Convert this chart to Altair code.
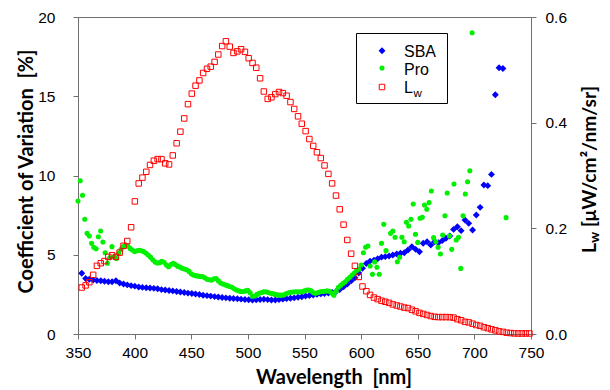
import altair as alt
import pandas as pd

# ---------------- data ----------------
# common ~3.35 nm sampling grid (SBA and Lw)
grid_wl = [
    353.3, 356.7, 360.0, 363.4, 366.7, 370.1, 373.4, 376.8, 380.1, 383.5,
    386.8, 390.2, 393.5, 396.9, 400.2, 403.6, 406.9, 410.3, 413.6, 417.0,
    420.3, 423.7, 427.0, 430.4, 433.7, 437.1, 440.4, 443.8, 447.1, 450.5,
    453.8, 457.2, 460.5, 463.9, 467.2, 470.6, 473.9, 477.3, 480.6, 484.0,
    487.3, 490.7, 494.0, 497.4, 500.7, 504.1, 507.4, 510.8, 514.1, 517.5,
    520.8, 524.2, 527.5, 530.9, 534.2, 537.6, 540.9, 544.3, 547.6, 551.0,
    554.3, 557.7, 561.0, 564.4, 567.7, 571.1, 574.4, 577.8, 581.1, 584.5,
    587.8, 591.2, 594.5, 597.9, 601.2, 604.6, 607.9, 611.3, 614.6, 618.0,
    621.3, 624.7, 628.0, 631.4, 634.7, 638.1, 641.4, 644.8, 648.1, 651.5,
    654.8, 658.2, 661.5, 664.9, 668.2, 671.6, 674.9, 678.3, 681.6, 685.0,
    688.3, 691.7, 695.0, 698.4, 701.7, 705.1, 708.4, 711.8, 715.1, 718.5,
    721.8, 725.2, 728.5, 731.9, 735.2, 738.6, 741.9, 745.3, 748.6,
]

# water-leaving radiance Lw [uW/cm2/nm/sr] (right axis)
lw_values = [
    0.088, 0.092, 0.098, 0.112, 0.129, 0.134, 0.138, 0.146, 0.149, 0.146,
    0.154, 0.167, 0.176, 0.202, 0.251, 0.285, 0.296, 0.307, 0.320, 0.328,
    0.331, 0.331, 0.323, 0.321, 0.338, 0.361, 0.383, 0.408, 0.435, 0.455,
    0.470, 0.480, 0.494, 0.502, 0.506, 0.515, 0.529, 0.545, 0.554, 0.544,
    0.532, 0.535, 0.539, 0.534, 0.522, 0.513, 0.504, 0.484, 0.459, 0.445,
    0.448, 0.454, 0.458, 0.456, 0.451, 0.439, 0.426, 0.412, 0.398, 0.384,
    0.369, 0.356, 0.344, 0.333, 0.319, 0.303, 0.285, 0.262, 0.236, 0.207,
    0.178, 0.152, 0.129, 0.108, 0.090, 0.081, 0.074, 0.069, 0.066, 0.063,
    0.061, 0.059, 0.056, 0.054, 0.052, 0.050, 0.049, 0.046, 0.043, 0.040,
    0.038, 0.036, 0.034, 0.0325, 0.032, 0.032, 0.032, 0.0318, 0.031, 0.028,
    0.026, 0.023, 0.022, 0.0195, 0.017, 0.0155, 0.0127, 0.011, 0.0089, 0.007,
    0.005, 0.004, 0.0025, 0.0018, 0.0012, 0.001, 0.001, 0.001, 0.001,
]

# SBA coefficient of variation [%] (first 112 grid wavelengths)
sba_values = [
    3.83, 3.50, 3.45, 3.40, 3.37, 3.36, 3.33, 3.30, 3.30, 3.36,
    3.22, 3.15, 3.10, 3.05, 3.02, 2.97, 2.94, 2.92, 2.90, 2.88,
    2.85, 2.80, 2.78, 2.75, 2.72, 2.68, 2.65, 2.62, 2.58, 2.55,
    2.52, 2.49, 2.45, 2.42, 2.39, 2.36, 2.33, 2.30, 2.28, 2.26,
    2.24, 2.22, 2.20, 2.18, 2.16, 2.15, 2.16, 2.18, 2.19, 2.17,
    2.15, 2.15, 2.17, 2.20, 2.23, 2.25, 2.28, 2.32, 2.35, 2.40,
    2.43, 2.46, 2.50, 2.53, 2.56, 2.58, 2.62, 2.68, 2.80, 2.98,
    3.15, 3.35, 3.55, 3.85, 4.15, 4.45, 4.60, 4.65, 4.75, 4.85,
    4.88, 4.92, 4.98, 5.05, 5.09, 5.13, 5.30, 5.51, 5.34, 5.19,
    5.72, 5.82, 5.61, 5.82, 5.76, 5.89, 6.04, 6.18, 6.60, 6.77,
    6.52, 7.19, 6.98, 6.56, 7.51, 7.99, 9.40, 9.36, 10.07, 15.10,
    16.80, 16.75,
]

# Profiler (Pro) coefficient of variation [%], ~2 nm sampling
pro_wl = [
    350, 352, 354, 356, 358, 360, 362, 364, 366, 368,
    370, 372, 374, 376, 378, 380, 382, 384, 386, 388,
    390, 392, 394, 396, 398, 400, 402, 404, 406, 408,
    410, 412, 414, 416, 418, 420, 422, 424, 426, 428,
    430, 432, 434, 436, 438, 440, 442, 444, 446, 448,
    450, 452, 454, 456, 458, 460, 462, 464, 466, 468,
    470, 472, 474, 476, 478, 480, 482, 484, 486, 488,
    490, 492, 494, 496, 498, 500, 502, 504, 506, 508,
    510, 512, 514, 516, 518, 520, 522, 524, 526, 528,
    530, 532, 534, 536, 538, 540, 542, 544, 546, 548,
    550, 552, 554, 556, 558, 560, 562, 564, 566, 568,
    570, 572, 574, 576, 578, 580, 582, 584, 586, 588,
    590, 592, 594, 596, 598, 600, 602, 604, 606, 608,
    610, 612, 614, 616, 618, 620, 622, 626, 628, 630,
    632, 634, 636, 638, 640, 642, 644, 646, 648, 650,
    652, 654, 656, 658, 660, 662, 664, 666, 668, 670,
    672, 674, 676, 678, 680, 682, 684, 686, 688, 690,
    692, 694, 696, 698, 728,
]
pro_values = [
    8.39, 9.67, 8.75, 7.24, 6.35, 6.18, 5.72, 5.47, 5.38, 6.14,
    6.50, 5.80, 5.13, 4.46, 4.81, 5.51, 4.88, 4.77, 5.09, 5.34,
    5.51, 5.61, 5.55, 5.40, 5.30, 5.20, 5.25, 5.28, 5.25, 5.20,
    5.10, 4.98, 4.85, 4.68, 4.55, 4.48, 4.50, 4.58, 4.52, 4.35,
    4.25, 4.38, 4.46, 4.38, 4.28, 4.22, 4.15, 4.10, 4.05, 3.95,
    3.80, 3.72, 3.68, 3.65, 3.62, 3.62, 3.55, 3.45, 3.42, 3.40,
    3.48, 3.50, 3.35, 3.22, 3.15, 3.10, 3.05, 3.00, 2.95, 2.85,
    2.78, 2.72, 2.68, 2.68, 2.72, 2.75, 2.60, 2.38, 2.40, 2.50,
    2.57, 2.62, 2.66, 2.67, 2.62, 2.57, 2.55, 2.50, 2.47, 2.45,
    2.45, 2.47, 2.55, 2.60, 2.63, 2.65, 2.67, 2.67, 2.66, 2.67,
    2.72, 2.77, 2.78, 2.72, 2.60, 2.57, 2.62, 2.67, 2.68, 2.70,
    2.72, 2.70, 2.58, 2.45, 2.70, 2.95, 3.08, 3.20, 3.30, 3.45,
    3.58, 3.72, 3.85, 4.00, 4.10, 4.35, 5.13, 5.47, 5.55, 4.29,
    3.77, 4.55, 4.21, 3.77, 5.72, 6.92, 5.26, 6.35, 6.50, 6.10,
    4.56, 4.84, 6.10, 5.82, 7.05, 6.81, 7.24, 8.20, 6.29, 5.78,
    7.30, 7.36, 8.14, 7.87, 8.29, 9.02, 6.08, 5.82, 5.47, 5.05,
    6.25, 7.46, 8.90, 6.18, 5.34, 9.46, 5.93, 6.10, 4.14, 7.46,
    8.83, 9.61, 10.30, 19.01, 7.34,
]

x_ticks = [350, 400, 450, 500, 550, 600, 650, 700, 750]
cv_ticks = [0, 5, 10, 15, 20]
lw_ticks = [0.0, 0.2, 0.4, 0.6]

legend_labels = ["SBA", "Pro", "L"]
legend_sub = ["w"]
cv_title = ["Coefficient of Variation\u00a0\u00a0[%]"]
x_title = ["Wavelength\u00a0\u00a0[nm]"]
lw_title_main = ["L"]
lw_title_sub = ["w"]
lw_title_unit = ["[\u03bcW/cm\u00b2/nm/sr]"]

# ---------------- frames ----------------
sba_df = pd.DataFrame({"wl": grid_wl[:len(sba_values)], "cv": sba_values})
pro_df = pd.DataFrame({"wl": pro_wl, "cv": pro_values})
lw_df = pd.DataFrame({"wl": grid_wl, "lw": lw_values})

W, H = 453, 317
TICK_FONT = "Liberation Sans"
TITLE_FONT = "Lato"
AX_COL = "#707070"
BLUE, GREEN, RED = "#0000FF", "#00F000", "#FF0000"

x_enc = alt.X(
    "wl:Q",
    scale=alt.Scale(domain=[350, 750], nice=False, zero=False),
    axis=alt.Axis(values=x_ticks, title=None, format="d", tickSize=5,
                  labelPadding=6, labelFontSize=15.5, labelFlush=False),
)

cv_scale = alt.Scale(domain=[0, 20], nice=False)
cv_axis = alt.Axis(values=cv_ticks, title=None, tickSize=5, labelPadding=18,
                   labelFontSize=15.5, labelFlush=False)

blue = alt.Chart(sba_df).mark_point(
    shape="diamond", filled=True, size=48, color=BLUE, opacity=1
).encode(x=x_enc, y=alt.Y("cv:Q", scale=cv_scale, axis=cv_axis))

green = alt.Chart(pro_df).mark_point(
    shape="circle", filled=True, size=26, color=GREEN, opacity=1
).encode(x=x_enc, y=alt.Y("cv:Q", scale=cv_scale, axis=cv_axis))

red = alt.Chart(lw_df).mark_point(
    shape="square", filled=False, size=30, color=RED, strokeWidth=1, opacity=1
).encode(
    x=x_enc,
    y=alt.Y("lw:Q", scale=alt.Scale(domain=[0, 0.6], nice=False),
            axis=alt.Axis(values=lw_ticks, format=".1f", title=None, orient="right",
                          tickSize=5, labelPadding=9, labelFontSize=15.5,
                          labelFlush=False)),
)

# ---------------- legend (manual, for the subscript) ----------------
leg_box = alt.Chart(pd.DataFrame({"k": [0]})).mark_rect(
    fill="white", stroke="black", strokeWidth=1
).encode(x=alt.value(278.5), x2=alt.value(369.5), y=alt.value(16.5), y2=alt.value(86.5))

leg_shapes = pd.DataFrame({"label": legend_labels})
leg_blue = alt.Chart(leg_shapes.iloc[[0]]).mark_point(
    shape="diamond", filled=True, size=48, color=BLUE, opacity=1
).encode(x=alt.value(304), y=alt.value(33.7))
leg_green = alt.Chart(leg_shapes.iloc[[1]]).mark_point(
    shape="circle", filled=True, size=26, color=GREEN, opacity=1
).encode(x=alt.value(304), y=alt.value(51))
leg_red = alt.Chart(leg_shapes.iloc[[2]]).mark_point(
    shape="square", filled=False, size=30, color=RED, strokeWidth=1, opacity=1
).encode(x=alt.value(304), y=alt.value(70))

leg_text_style = dict(font=TICK_FONT, fontSize=16, align="left", baseline="alphabetic", color="black")
leg_t1 = alt.Chart(leg_shapes.iloc[[0]]).mark_text(**leg_text_style).encode(
    x=alt.value(326), y=alt.value(39.5), text="label:N")
leg_t2 = alt.Chart(leg_shapes.iloc[[1]]).mark_text(**leg_text_style).encode(
    x=alt.value(326), y=alt.value(58), text="label:N")
leg_t3 = alt.Chart(leg_shapes.iloc[[2]]).mark_text(**leg_text_style).encode(
    x=alt.value(326), y=alt.value(76.3), text="label:N")
leg_t3s = alt.Chart(pd.DataFrame({"s": legend_sub})).mark_text(
    font=TICK_FONT, fontSize=11.5, align="left", baseline="alphabetic", color="black"
).encode(x=alt.value(335.5), y=alt.value(79.7), text="s:N")

# ---------------- axis titles (manual) ----------------
title_style = dict(font=TITLE_FONT, fontWeight="bold", fontSize=20, color="black")
right_style = dict(font=TITLE_FONT, fontWeight="bold", fontSize=19.2, color="black")
t_left = alt.Chart(pd.DataFrame({"t": cv_title})).mark_text(
    angle=270, align="center", baseline="alphabetic", **title_style
).encode(x=alt.value(-45), y=alt.value(154.5), text="t:N")
t_bottom = alt.Chart(pd.DataFrame({"t": x_title})).mark_text(
    align="center", baseline="alphabetic", **title_style
).encode(x=alt.value(256), y=alt.value(367), text="t:N")
t_right_L = alt.Chart(pd.DataFrame({"t": lw_title_main})).mark_text(
    angle=270, align="left", baseline="alphabetic", **right_style
).encode(x=alt.value(517.5), y=alt.value(236), text="t:N")
t_right_w = alt.Chart(pd.DataFrame({"t": lw_title_sub})).mark_text(
    angle=270, align="left", baseline="alphabetic", font=TITLE_FONT, fontWeight="bold",
    fontSize=13.5, color="black"
).encode(x=alt.value(521), y=alt.value(225.8), text="t:N")
t_right_u = alt.Chart(pd.DataFrame({"t": lw_title_unit})).mark_text(
    angle=270, align="left", baseline="alphabetic", **right_style
).encode(x=alt.value(517.5), y=alt.value(210), text="t:N")

left_layer = alt.layer(blue, green)

chart = alt.layer(
    left_layer, red,
    leg_box, leg_blue, leg_green, leg_red, leg_t1, leg_t2, leg_t3, leg_t3s,
    t_left, t_bottom, t_right_L, t_right_w, t_right_u,
).resolve_scale(y="independent").properties(
    width=W, height=H,
    autosize=alt.AutoSizeParams(type="none"),
    padding={"left": 70, "top": 9, "right": 71, "bottom": 56},
).configure_view(
    stroke=AX_COL, strokeWidth=1
).configure_axis(
    domainColor=AX_COL, tickColor=AX_COL, labelColor="black", labelFont=TICK_FONT,
    grid=False, domainWidth=1, tickWidth=1
)

chart.save("out.html", embed_options={"renderer": "svg", "actions": False})
